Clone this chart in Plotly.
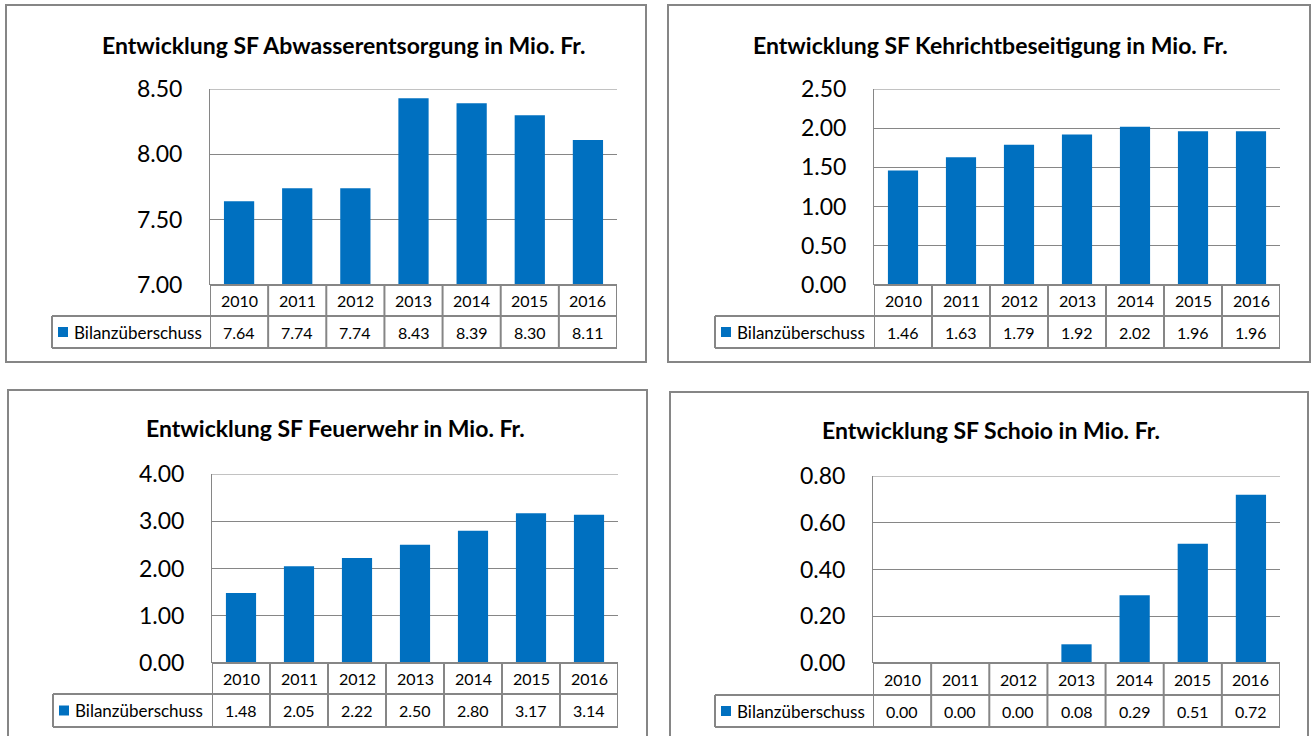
import plotly.graph_objects as go

# data
years = ["2010", "2011", "2012", "2013", "2014", "2015", "2016"]
series_name = "Bilanzüberschuss"
titles = [
    "Entwicklung SF Abwasserentsorgung in Mio. Fr.",
    "Entwicklung SF Kehrichtbeseitigung in Mio. Fr.",
    "Entwicklung SF Feuerwehr in Mio. Fr.",
    "Entwicklung SF Schoio in Mio. Fr.",
]
abwasser = [7.64, 7.74, 7.74, 8.43, 8.39, 8.30, 8.11]
kehricht = [1.46, 1.63, 1.79, 1.92, 2.02, 1.96, 1.96]
feuerwehr = [1.48, 2.05, 2.22, 2.50, 2.80, 3.17, 3.14]
schoio = [0.00, 0.00, 0.00, 0.08, 0.29, 0.51, 0.72]
y_min = [7.0, 0.0, 0.0, 0.0]
y_max = [8.5, 2.5, 4.0, 0.8]
y_step = [0.5, 0.5, 1.0, 0.2]

W, H = 1314, 736
BLUE = "#0070C0"
GRID = "#868686"
FONT = "Lato, Carlito, Calibri, sans-serif"

# panel geometry in screen pixels: outer box, plot box, table rows, legend cell left, title centre
panels = [
    dict(outer=(6, 5, 646, 362), plot=(210, 89, 617, 285), rows=(316, 348), leg=52, title=(343, 45)),
    dict(outer=(668, 5, 1310, 362), plot=(874, 89, 1280, 285), rows=(316, 348), leg=715, title=(990, 45)),
    dict(outer=(8, 390, 647, 780), plot=(212, 474, 618, 663), rows=(694, 727), leg=53, title=(335, 428)),
    dict(outer=(670, 392, 1308, 780), plot=(873, 476, 1280, 663), rows=(695, 727), leg=715, title=(991, 430)),
]


def px(x):
    return x / W


def py(y):
    return 1 - y / H


fig = go.Figure()
shapes, annotations = [], []
values = [abwasser, kehricht, feuerwehr, schoio]
txt = dict(family=FONT, size=16, color="#000")

for i, (p, vals) in enumerate(zip(panels, values)):
    n = "" if i == 0 else str(i + 1)
    xa, ya = "x" + n, "y" + n
    x0, y0, x1, y1 = p["plot"]
    r1, r2 = p["rows"]

    fig.add_trace(go.Bar(x=years, y=vals, xaxis=xa, yaxis=ya, marker_color=BLUE,
                         marker_line_width=0, showlegend=False, name=series_name))

    fig.layout["xaxis" + n] = dict(domain=[px(x0), px(x1)], anchor=ya, type="category",
                                   range=[-0.5, 6.5], showticklabels=False, showgrid=False,
                                   showline=False, zeroline=False, fixedrange=True,
                                   automargin=False)
    fig.layout["yaxis" + n] = dict(domain=[py(y1), py(y0)], anchor=xa,
                                   range=[y_min[i], y_max[i]], tick0=y_min[i], dtick=y_step[i],
                                   tickformat=".2f", showgrid=True, gridcolor=GRID, gridwidth=1,
                                   showline=True, linecolor=GRID, linewidth=1, zeroline=False,
                                   ticks="", ticklabelstandoff=22, automargin=False,
                                   fixedrange=True,
                                   tickfont=dict(family=FONT, size=23, color="#000"))

    # top gridline at the axis maximum
    shapes.append(dict(type="line", xref=xa + " domain", yref=ya, x0=0, x1=1,
                       y0=y_max[i], y1=y_max[i], line=dict(color=GRID, width=1)))

    # outer chart border
    ox0, oy0, ox1, oy1 = p["outer"]
    shapes.append(dict(type="rect", xref="paper", yref="paper", x0=px(ox0), x1=px(ox1),
                       y0=py(oy0), y1=py(oy1), line=dict(color=GRID, width=2)))

    # data table grid
    line = dict(color=GRID, width=2)
    shapes.append(dict(type="line", xref=xa + " domain", yref="paper", x0=0, x1=1,
                       y0=py(y1), y1=py(y1), line=line))
    for yy in (r1, r2):
        shapes.append(dict(type="line", xref="paper", yref="paper", x0=px(p["leg"]), x1=px(x1),
                           y0=py(yy), y1=py(yy), line=line))
    for k in range(len(years) + 1):
        shapes.append(dict(type="line", xref=xa, yref="paper", x0=k - 0.5, x1=k - 0.5,
                           y0=py(y1), y1=py(r2), line=line))
    shapes.append(dict(type="line", xref="paper", yref="paper", x0=px(p["leg"]), x1=px(p["leg"]),
                       y0=py(r1), y1=py(r2), line=line))

    # legend key in the table
    ym = (r1 + r2) / 2
    shapes.append(dict(type="rect", xref="paper", yref="paper", x0=px(p["leg"] + 6),
                       x1=px(p["leg"] + 16), y0=py(ym - 5), y1=py(ym + 5),
                       fillcolor=BLUE, line=dict(width=0)))
    annotations.append(dict(text=series_name, xref="paper", yref="paper", x=px(p["leg"] + 20),
                            y=py(ym), xanchor="left", yanchor="middle", showarrow=False,
                            font=dict(family=FONT, size=17, color="#000")))

    for k, (yr, v) in enumerate(zip(years, vals)):
        annotations.append(dict(text=yr, xref=xa, yref="paper", x=k, y=py((y1 + r1) / 2),
                                xanchor="center", yanchor="middle", showarrow=False, font=txt))
        annotations.append(dict(text=f"{v:.2f}", xref=xa, yref="paper", x=k, y=py(ym),
                                xanchor="center", yanchor="middle", showarrow=False, font=txt))

    tx, ty = p["title"]
    annotations.append(dict(text="<b>" + titles[i] + "</b>", xref="paper", yref="paper",
                            x=px(tx), y=py(ty), xanchor="center", yanchor="middle",
                            showarrow=False, font=dict(family=FONT, size=23, color="#000")))

fig.update_layout(width=W, height=H, margin=dict(l=0, r=0, t=0, b=0, autoexpand=False),
                  paper_bgcolor="white", plot_bgcolor="white", bargap=0.48,
                  shapes=shapes, annotations=annotations, showlegend=False)

# drop the default page margin so the figure sits at the window origin
fig.write_html("out.html", config={"displayModeBar": False},
               post_script="document.body.style.margin = '0';")
